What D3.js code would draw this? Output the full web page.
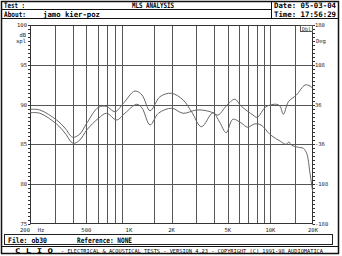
<!DOCTYPE html>
<html>
<head>
<meta charset="utf-8">
<script src="https://cdn.jsdelivr.net/npm/d3@7"></script>
<style>
  body { margin: 0; background: #fff; }
  text { font-family: "DejaVu Sans Mono", monospace; }
</style>
</head>
<body>
<div id="chart"></div>
<script>
// frequency (Hz) and level (dB spl)
const freqA = [200, 235, 308, 353, 400, 450, 503, 609, 695, 798, 914, 1104, 1238, 1411, 1660, 2006, 2416, 2780, 3254, 3929, 4377, 4872, 5422, 6208, 6907, 7700, 8585, 10000, 11750, 12900, 13500, 14100, 15740, 17080, 18050, 19050, 19900];
const dbA   = [89.41, 89.32, 88.07, 87.06, 85.9, 86.3, 87.65, 89.66, 89.76, 89.11, 90.16, 91.71, 91.2, 89.23, 91.0, 91.42, 90.58, 89.07, 87.22, 88.98, 87.8, 86.47, 88.15, 87.7, 87.15, 87.56, 87.44, 86.2, 85.4, 85.0, 85.3, 84.9, 84.64, 84.51, 83.88, 81.37, 79.06];

const freqB = [200, 235, 308, 353, 404, 450, 503, 609, 695, 819, 940, 1134, 1238, 1411, 1616, 2006, 2416, 2996, 3530, 3929, 4270, 4872, 5600, 6208, 7530, 8060, 9320, 11080, 11700, 12350, 13410, 15260, 17570, 19050, 19900];
const dbB   = [88.98, 88.91, 87.56, 86.43, 85.14, 85.55, 86.8, 88.28, 88.91, 88.07, 88.94, 90.04, 89.57, 87.44, 88.91, 89.54, 88.91, 89.32, 89.23, 88.98, 88.69, 89.82, 90.67, 89.82, 88.69, 88.4, 89.74, 90.04, 89.8, 88.78, 90.36, 91.2, 92.46, 92.34, 92.05];

const dbTicks  = [100, 95, 90, 85, 80, 75];
const degTicks = [180, 108, 36, -36, -108, -180];
const freqGrid = [300, 400, 500, 600, 700, 800, 900, 1500, 2000, 3000, 4000, 5000, 6000, 7000, 8000, 9000, 10000, 15000];
const freqLabels = [[500, "500"], [1000, "1K"], [2000, "2K"], [5000, "5K"], [10000, "10K"], [20000, "20K"]];

const W = 342, H = 256;
const svg = d3.select("#chart").append("svg")
  .attr("width", W)
  .attr("height", H);

svg.append("rect").attr("width", W).attr("height", H).attr("fill", "#fff");

let x = d3.scaleLog().domain([200, 20000]).range([30, 313]);
let y = d3.scaleLinear().domain([75, 100]).range([224, 25]);
let yDeg = d3.scaleLinear().domain([-180, 180]).range([224, 25]);

// outer frame + header/footer boxes
svg.append("rect")
  .attr("x", 1.5).attr("y", 1.5)
  .attr("width", 337).attr("height", 252)
  .attr("fill", "none").attr("stroke", "#111").attr("stroke-width", 1.5);

svg.append("line").attr("x1", 1.5).attr("x2", 338.5).attr("y1", 18.5).attr("y2", 18.5).attr("stroke", "#111");
svg.append("line").attr("x1", 1.5).attr("x2", 271.5).attr("y1", 9.5).attr("y2", 9.5).attr("stroke", "#111");
svg.append("line").attr("x1", 271.5).attr("x2", 271.5).attr("y1", 1.5).attr("y2", 18.5).attr("stroke", "#111");
svg.append("line").attr("x1", 1.5).attr("x2", 338.5).attr("y1", 246.5).attr("y2", 246.5).attr("stroke", "#111");

svg.append("rect")
  .attr("x", 4.5).attr("y", 234.5)
  .attr("width", 328).attr("height", 10)
  .attr("fill", "none").attr("stroke", "#222");

function hdr(tx, ty, s, len) {
  svg.append("text")
    .attr("x", tx).attr("y", ty)
    .attr("font-size", 7.5).attr("font-weight", "bold")
    .attr("textLength", len).attr("lengthAdjust", "spacingAndGlyphs")
    .text(s);
}
hdr(4, 8, "Test :", 21);
hdr(132, 8, "MLS ANALYSIS", 42);
hdr(4, 16.5, "About:", 22);
hdr(43, 16.5, "jamo kier-poz", 57);
hdr(274, 8, "Date: 05-03-04", 62);
hdr(274, 16.5, "Time: 17:56:29", 62);
hdr(8, 242.5, "File: ob30", 39);
hdr(77, 242.5, "Reference: NONE", 55);

svg.append("text").attr("x", 15).attr("y", 252.5)
  .attr("font-size", 6.5).attr("font-weight", "bold")
  .attr("textLength", 38).attr("lengthAdjust", "spacingAndGlyphs")
  .text("C L I O");
svg.append("text").attr("x", 61).attr("y", 252.5)
  .attr("font-size", 5.5)
  .attr("textLength", 262).attr("lengthAdjust", "spacingAndGlyphs")
  .text("-  ELECTRICAL & ACOUSTICAL TESTS  -  VERSION 4.23  -  COPYRIGHT (C) 1991-98 AUDIOMATICA");

// grid
const gridColor = "#555";
dbTicks.slice(1, -1).forEach(t =>
  svg.append("line")
    .attr("x1", 30).attr("x2", 313)
    .attr("y1", Math.round(y(t)) + 0.5).attr("y2", Math.round(y(t)) + 0.5)
    .attr("stroke", gridColor).attr("stroke-width", 1)
);
freqGrid.forEach(f =>
  svg.append("line")
    .attr("x1", Math.round(x(f)) + 0.5).attr("x2", Math.round(x(f)) + 0.5)
    .attr("y1", 25).attr("y2", 224)
    .attr("stroke", gridColor).attr("stroke-width", 1)
);

svg.append("rect")
  .attr("x", 30.5).attr("y", 25.5)
  .attr("width", 282).attr("height", 198)
  .attr("fill", "none").attr("stroke", "#333");

// minor ticks on both vertical axes
d3.range(75, 100.01, 0.5).forEach(t => {
  let yy = Math.round(y(t)) + 0.5;
  svg.append("line").attr("x1", 28).attr("x2", 30.5).attr("y1", yy).attr("y2", yy).attr("stroke", "#333");
  svg.append("line").attr("x1", 312.5).attr("x2", 315).attr("y1", yy).attr("y2", yy).attr("stroke", "#333");
});

// axis labels
const lab = { "font-size": 5.5, "fill": "#222" };
dbTicks.forEach(t =>
  svg.append("text")
    .attr("x", 27).attr("y", y(t) + 2)
    .attr("text-anchor", "end")
    .attr("font-size", lab["font-size"]).attr("fill", lab.fill)
    .text(t)
);
degTicks.forEach(t =>
  svg.append("text")
    .attr("x", 315).attr("y", yDeg(t) + 2)
    .attr("font-size", lab["font-size"]).attr("fill", lab.fill)
    .text(t)
);
freqLabels.forEach(d =>
  svg.append("text")
    .attr("x", x(d[0])).attr("y", 232)
    .attr("text-anchor", "middle")
    .attr("font-size", lab["font-size"]).attr("fill", lab.fill)
    .text(d[1])
);
svg.append("text").attr("x", 25).attr("y", 232).attr("text-anchor", "middle")
  .attr("font-size", lab["font-size"]).attr("fill", lab.fill).text("200");
svg.append("text").attr("x", 41).attr("y", 232).attr("text-anchor", "middle")
  .attr("font-size", lab["font-size"]).attr("fill", lab.fill).text("Hz");
svg.append("text").attr("x", 26).attr("y", 37).attr("text-anchor", "end")
  .attr("font-size", lab["font-size"]).attr("fill", lab.fill).text("dB");
svg.append("text").attr("x", 26).attr("y", 43).attr("text-anchor", "end")
  .attr("font-size", lab["font-size"]).attr("fill", lab.fill).text("spl");
svg.append("text").attr("x", 316).attr("y", 43)
  .attr("font-size", lab["font-size"]).attr("fill", lab.fill).text("Deg");

svg.append("rect").attr("x", 300.5).attr("y", 25.5).attr("width", 12).attr("height", 6)
  .attr("fill", "#fff").attr("stroke", "#555");
svg.append("text").attr("x", 306.5).attr("y", 30.5).attr("text-anchor", "middle")
  .attr("font-size", 5).attr("fill", "#222").text("Dbl");

// curves
let line = d3.line()
  .x(d => x(d[0]))
  .y(d => y(d[1]))
  .curve(d3.curveCatmullRom.alpha(0.5));

[[freqA, dbA], [freqB, dbB]].forEach(s => {
  let pts = s[0].map((f, i) => [f, s[1][i]]);
  svg.append("path")
    .datum(pts)
    .attr("d", line)
    .attr("fill", "none")
    .attr("stroke", "#666")
    .attr("stroke-width", 1);
});
</script>
</body>
</html>
